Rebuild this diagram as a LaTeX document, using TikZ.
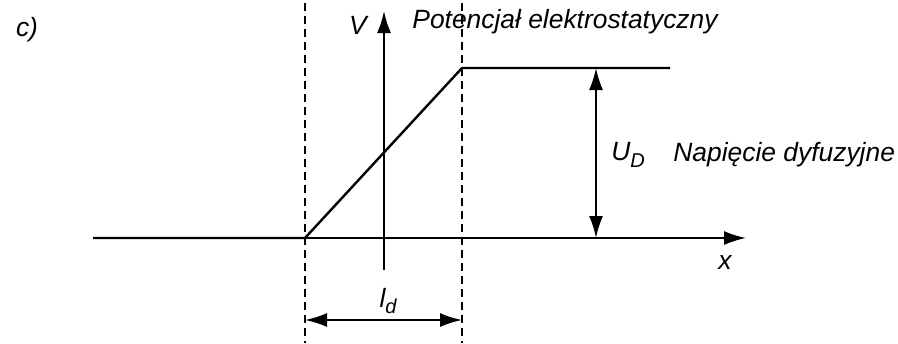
\documentclass[tikz,border=0pt]{standalone}
\usepackage{fontspec}
\setmainfont{Liberation Sans}
\usetikzlibrary{arrows.meta}
\newcommand{\lowidx}[1]{\raisebox{-0.45ex}{\fontsize{10}{12}\selectfont #1}}
\begin{document}
\begin{tikzpicture}[
    x=0.5pt, y=-0.5pt,
    lbl/.style={font=\itshape\fontsize{13.2}{15}\selectfont, inner sep=0pt},
    ax/.style={-{Latex[length=11pt,width=7pt]}, line width=1pt},
    dim/.style={{Latex[length=11pt,width=7pt]}-{Latex[length=11pt,width=7pt]}, line width=1pt},
    bnd/.style={dash pattern=on 4pt off 2.5pt, line width=0.75pt},
    pot/.style={line width=1.2pt, line join=round}
]
\useasboundingbox (0,0) rectangle (898,343);

% junction boundaries
\coordinate (lt) at (305,3);   \coordinate (lb) at (305,343);
\coordinate (rt) at (462,3);   \coordinate (rb) at (462,343);
\draw[bnd] (lt) -- (lb);
\draw[bnd] (rt) -- (rb);

% axes
\coordinate (x0) at (93,238);  \coordinate (x1) at (746,238);
\coordinate (v0) at (384,270); \coordinate (v1) at (384,11);
\draw[ax] (x0) -- (x1);
\draw[ax] (v0) -- (v1);

% potential
\coordinate (p0) at (93,238);  \coordinate (p1) at (305,238);
\coordinate (p2) at (462,68);  \coordinate (p3) at (670,68);
\draw[pot] (p0) -- (p1) -- (p2) -- (p3);

% dimensions
\coordinate (ud0) at (596,68); \coordinate (ud1) at (596,238);
\draw[dim] (ud0) -- (ud1);
\coordinate (ld0) at (305,320); \coordinate (ld1) at (462,320);
\draw[dim] (ld0) -- (ld1);

% labels
\node[lbl] (c)    at (27,30)   {c)};
\node[lbl] (vl)   at (358,25)  {V};
\node[lbl, anchor=west] (pt) at (412,22) {Potencjał elektrostatyczny};
\node[lbl, anchor=west] (ud) at (611,155) {U\lowidx{D}};
\node[lbl, anchor=west] (nd) at (673,155) {Napięcie dyfuzyjne};
\node[lbl] (xl)   at (725,263) {x};
\node[lbl] (ldl)  at (388,301) {l\lowidx{d}};
\end{tikzpicture}
\end{document}
